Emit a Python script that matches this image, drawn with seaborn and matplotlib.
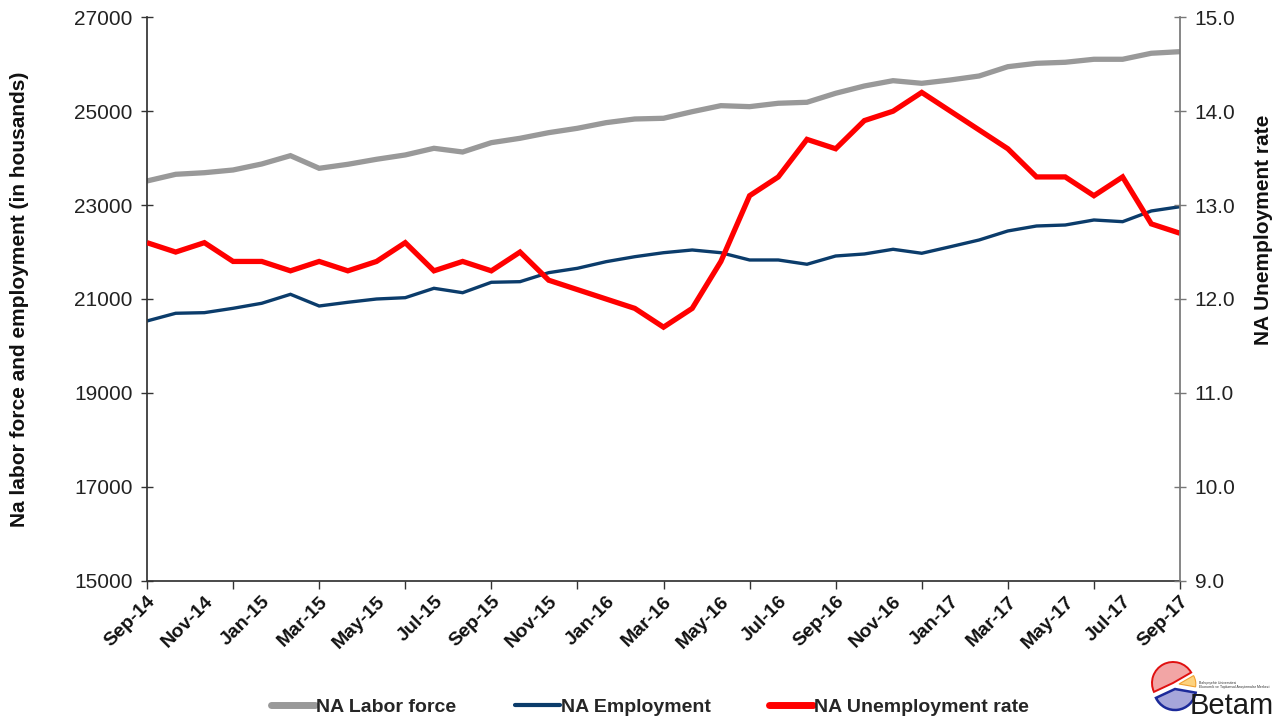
import matplotlib
matplotlib.use("Agg")
import matplotlib.pyplot as plt
from matplotlib.patches import Wedge
from matplotlib.lines import Line2D
import seaborn as sns
import pandas as pd

# ---------------- data ----------------
months = ["Sep-14", "Oct-14", "Nov-14", "Dec-14", "Jan-15", "Feb-15", "Mar-15", "Apr-15",
          "May-15", "Jun-15", "Jul-15", "Aug-15", "Sep-15", "Oct-15", "Nov-15", "Dec-15",
          "Jan-16", "Feb-16", "Mar-16", "Apr-16", "May-16", "Jun-16", "Jul-16", "Aug-16",
          "Sep-16", "Oct-16", "Nov-16", "Dec-16", "Jan-17", "Feb-17", "Mar-17", "Apr-17",
          "May-17", "Jun-17", "Jul-17", "Aug-17", "Sep-17"]

labor_force = [23514, 23656, 23690, 23748, 23876, 24053, 23784, 23869, 23976, 24068,
               24210, 24131, 24330, 24423, 24543, 24636, 24756, 24834, 24849, 24990,
               25118, 25097, 25169, 25190, 25382, 25537, 25650, 25594, 25665, 25750,
               25948, 26020, 26042, 26106, 26106, 26234, 26268]

employment = [20532, 20696, 20709, 20802, 20909, 21100, 20851, 20930, 21000, 21028,
              21228, 21134, 21356, 21369, 21561, 21654, 21795, 21901, 21986, 22044,
              21986, 21831, 21831, 21740, 21916, 21959, 22059, 21974, 22114, 22257,
              22449, 22555, 22576, 22683, 22647, 22875, 22966]

unemp_rate = [12.6, 12.5, 12.6, 12.4, 12.4, 12.3, 12.4, 12.3, 12.4, 12.6,
              12.3, 12.4, 12.3, 12.5, 12.2, 12.1, 12.0, 11.9, 11.7, 11.9,
              12.4, 13.1, 13.3, 13.7, 13.6, 13.9, 14.0, 14.2, 14.0, 13.8,
              13.6, 13.3, 13.3, 13.1, 13.3, 12.8, 12.7]

left_ticks = [15000, 17000, 19000, 21000, 23000, 25000, 27000]
right_ticks = [9.0, 10.0, 11.0, 12.0, 13.0, 14.0, 15.0]

series_names = ["NA Labor force", "NA Employment", "NA Unemployment rate"]
left_label = "Na labor force and employment (in housands)"
right_label = "NA Unemployment rate"

# ---------------- style ----------------
sns.set_theme(style="white")
plt.rcParams["font.family"] = ["Liberation Sans", "DejaVu Sans"]

GRAY = "#999999"
NAVY = "#0b3c6b"
RED = "#ff0000"

df = pd.DataFrame({"idx": range(len(months)), "month": months,
                   "labor": labor_force, "emp": employment, "rate": unemp_rate})

fig = plt.figure(figsize=(12.76, 7.2), dpi=100)
ax = fig.add_axes([147 / 1276, 1 - 580.7 / 720, (1180 - 147) / 1276, (580.7 - 17.3) / 720])
ax2 = ax.twinx()

sns.lineplot(data=df, x="idx", y="labor", ax=ax, color=GRAY, lw=3.8, legend=False)
sns.lineplot(data=df, x="idx", y="emp", ax=ax, color=NAVY, lw=2.4, legend=False)
sns.lineplot(data=df, x="idx", y="rate", ax=ax2, color=RED, lw=3.8, legend=False)
for ln in ax.lines + ax2.lines:
    ln.set_solid_joinstyle("miter")
    ln.set_solid_capstyle("butt")

n = len(months)
ax.set_xlim(0, n - 1)
ax.set_ylim(left_ticks[0], left_ticks[-1])
ax2.set_ylim(right_ticks[0], right_ticks[-1])

# y axes
ax.set_yticks(left_ticks)
ax.set_yticklabels([str(v) for v in left_ticks], fontsize=15, color="#222222")
ax2.set_yticks(right_ticks)
ax2.set_yticklabels([f"{v:.1f}" for v in right_ticks], fontsize=15, color="#222222")

ax.tick_params(axis="y", direction="inout", length=9, width=1, color="#333333", pad=6, left=True)
ax2.tick_params(axis="y", direction="inout", length=9, width=1, color="#777777", pad=6, right=True)

# x axis: labels every 2 months (major, no mark), tick marks every 3 months (minor)
ax.xaxis.remove_overlapping_locs = False
ax.set_xticks(list(range(0, n, 2)))
ax.set_xticklabels([months[i] for i in range(0, n, 2)],
                   rotation=45, ha="right", rotation_mode="anchor",
                   fontsize=14, fontweight="bold", color="#111111")
ax.tick_params(axis="x", which="major", length=0, pad=9, bottom=True)
ax.set_xticks(list(range(0, n, 3)), minor=True)
ax.tick_params(axis="x", which="minor", direction="out", length=6, width=1,
               color="#333333", bottom=True)

ax.set_xlabel("")
ax.set_ylabel(left_label, fontsize=15, fontweight="bold", color="#111111")
ax.yaxis.set_label_coords((29 - 147) / 1033, 0.5)
ax2.set_ylabel(right_label, fontsize=15, fontweight="bold", color="#111111")
ax2.yaxis.set_label_coords((1254 - 147) / 1033, (580.7 - 230) / 563.4)

for a in (ax, ax2):
    a.spines["top"].set_visible(False)
ax.spines["left"].set_color("#333333")
ax.spines["bottom"].set_color("#333333")
ax.spines["right"].set_visible(False)
ax2.spines["left"].set_visible(False)
ax2.spines["bottom"].set_visible(False)
ax2.spines["right"].set_color("#777777")
ax.grid(False)
ax2.grid(False)

# legend
handles = [Line2D([], [], color=GRAY, lw=5, solid_capstyle="round"),
           Line2D([], [], color=NAVY, lw=3),
           Line2D([], [], color=RED, lw=5, solid_capstyle="round")]
leg = fig.legend(handles, series_names, loc="center", bbox_to_anchor=(650 / 1276, 1 - 707 / 720),
                 ncol=3, frameon=False, handlelength=2.3, handletextpad=0.05,
                 columnspacing=3.0, prop={"size": 14, "weight": "bold"})

# Betam logo (approximation)
lax = fig.add_axes([1146 / 1276, 0.0, 130 / 1276, 66 / 720])
lax.set_xlim(0, 130)
lax.set_ylim(0, 66)
lax.set_aspect("equal")
lax.axis("off")
cx, cy, r = 28, 34, 21
lax.add_patch(Wedge((cx - 1, cy + 3), r, 30, 205, facecolor="#f2a5a5", edgecolor="#e01010", lw=1.4))
lax.add_patch(Wedge((cx + 5, cy + 2), r * 0.8, -10, 30, facecolor="#fdd27e", edgecolor="#f0a030", lw=0.8))
lax.add_patch(Wedge((cx + 1, cy - 3), r, 205, 350, facecolor="#a6a6da", edgecolor="#1c2a9a", lw=1.8))
lax.text(44, 0, "Betam", fontsize=21, color="#1a1a1a", ha="left", va="bottom")
lax.text(53, 36, "Bahçeşehir Üniversitesi", fontsize=2.5, color="#333333")
lax.text(53, 32, "Ekonomik ve Toplumsal Araştırmalar Merkezi", fontsize=2.5, color="#333333")

fig.savefig("out.png", dpi=100, facecolor="white")
